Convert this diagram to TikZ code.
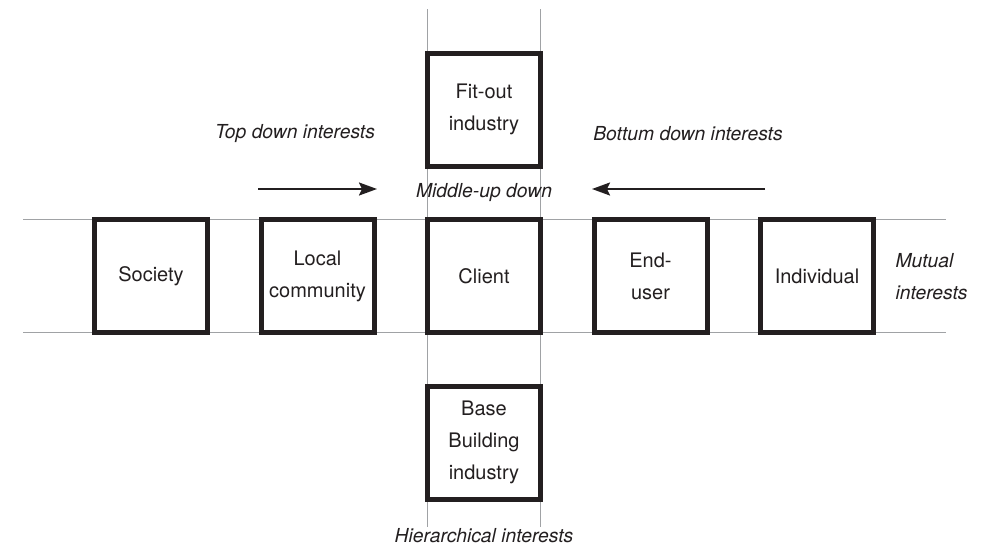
\documentclass[tikz,border=0pt]{standalone}
\usepackage{fontspec}
\setmainfont{TeX Gyre Heros}
\usetikzlibrary{arrows.meta,positioning,backgrounds}
\definecolor{ink}{HTML}{231F20}
\definecolor{rule}{HTML}{A0A2A5}

\begin{document}
\begin{tikzpicture}[x=1pt,y=1pt,
  party/.style={draw=ink,fill=white,line width=5pt,minimum size=113pt,inner sep=2pt,outer sep=0pt,align=center,text=ink,font=\fontsize{20}{32}\selectfont},
  note/.style={text=ink,font=\fontsize{19.3}{32}\selectfont\itshape,align=left},
  guide/.style={draw=rule,line width=1.4pt},
  flow/.style={draw=ink,line width=2pt,-{Stealth[length=18pt,width=13pt,inset=3pt]}}]
  \useasboundingbox (0,0) rectangle (991,-546);
  \node[party] (client) at (484,-276) {Client};
  \node[party,left=53.5pt of client] (local) {Local\\community};
  \node[party,left=53.5pt of local] (society) {Society};
  \node[party,right=53.5pt of client] (enduser) {End-\\user};
  \node[party,right=53.5pt of enduser] (individual) {Individual};
  \node[party,above=53.5pt of client] (fitout) {Fit-out\\industry};
  \node[party,below=53.5pt of client] (base) {Base\\Building\\industry};
  \coordinate (westend) at (23,-276);
  \coordinate (eastend) at (946,-276);
  \coordinate (topend) at (484,-9);
  \coordinate (bottomend) at (484,-527);
  \begin{scope}[on background layer]
    \draw[guide] (client.north -| westend) -- (client.north -| eastend);
    \draw[guide] (client.south -| westend) -- (client.south -| eastend);
    \draw[guide] (client.west |- topend) -- (client.west |- bottomend);
    \draw[guide] (client.east |- topend) -- (client.east |- bottomend);
  \end{scope}
  \coordinate (topfrom) at (258,-189);
  \coordinate (topto) at (377,-189);
  \coordinate (bottomfrom) at (765,-189);
  \coordinate (bottomto) at (592,-189);
  \draw[flow] (topfrom) -- (topto);
  \draw[flow] (bottomfrom) -- (bottomto);
  \node[note] (topdown) at (295,-134) {Top down interests};
  \node[note] (bottomdown) at (688,-134) {Bottum down interests};
  \node[note] (middle) at (484,-193) {Middle-up down};
  \node[note,anchor=west] (mutual) at (892,-277) {Mutual\\interests};
  \node[note,inner sep=0pt,anchor=base] (hier) at (484,-542) {Hierarchical interests};
\end{tikzpicture}
\end{document}
